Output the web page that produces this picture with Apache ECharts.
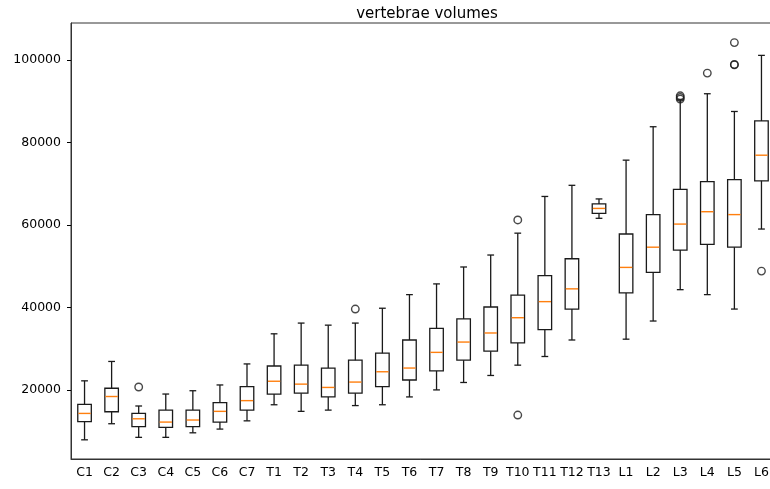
<!DOCTYPE html>
<html>
<head>
<meta charset="utf-8">
<title>vertebrae volumes</title>
<script src="https://cdn.jsdelivr.net/npm/echarts@6/dist/echarts.min.js"></script>
<style>
    html, body { margin: 0; padding: 0; background: #fff; }
    #chart { width: 770px; height: 489px; }
</style>
</head>
<body>
<div id="chart"></div>
<script>
// vertebra names along the x axis
var categories = ['C1','C2','C3','C4','C5','C6','C7',
    'T1','T2','T3','T4','T5','T6','T7','T8','T9','T10','T11','T12','T13',
    'L1','L2','L3','L4','L5','L6'];

// box statistics (whisker low, Q1, median, Q3, whisker high)
var whiskerLow = [7900, 11800, 8500, 8500, 9600, 10500, 12500,
    16400, 14800, 15100, 16200, 16400, 18300, 20000, 21800, 23500,
    26000, 28100, 32100, 61600, 32300, 36700, 44300, 43100, 39600, 59000];
var q1 = [12300, 14700, 11100, 10900, 11100, 12200, 15100,
    19000, 19200, 18300, 19200, 20800, 22400, 24600, 27200, 29400,
    31400, 34600, 39600, 62800, 43500, 48500, 53900, 55300, 54600, 70700];
var medians = [14300, 18400, 13000, 12200, 12700, 14800, 17400,
    22100, 21400, 20600, 21900, 24400, 25300, 29100, 31600, 33800,
    37500, 41400, 44500, 64000, 49700, 54600, 60200, 63200, 62500, 76900];
var q3 = [16500, 20400, 14300, 15100, 15100, 16900, 20800,
    25800, 26000, 25300, 27200, 28900, 32100, 34900, 37200, 40100,
    43000, 47700, 51800, 65100, 57800, 62500, 68600, 70500, 71000, 85200];
var whiskerHigh = [22200, 26900, 16100, 19000, 19800, 21200, 26300,
    33600, 36200, 35700, 36200, 39800, 43100, 45700, 49800, 52700,
    58000, 66900, 69600, 66300, 75700, 83800, 90300, 91800, 87500, 101100];

// outliers: [vertebra, volume]
var outliers = [
    ['C3', 20700],
    ['T4', 39600],
    ['T10', 61200], ['T10', 13900],
    ['L3', 91300], ['L3', 90900], ['L3', 90500],
    ['L4', 96800],
    ['L5', 104200], ['L5', 98900], ['L5', 98800],
    ['L6', 48800]
];

var yTicks = [20000, 40000, 60000, 80000, 100000];

var boxData = [];
for (var i = 0; i < categories.length; i++) {
    boxData.push([i, whiskerLow[i], q1[i], medians[i], q3[i], whiskerHigh[i]]);
}
var outlierData = [];
for (var j = 0; j < outliers.length; j++) {
    outlierData.push([categories.indexOf(outliers[j][0]), outliers[j][1]]);
}

/**
 * matplotlib style box: half-band box, quarter-band caps, orange median
 */
var renderBox = function (params, api) {
    var idx = api.value(0);
    var lo = api.coord([idx, api.value(1)]);
    var b1 = api.coord([idx, api.value(2)]);
    var md = api.coord([idx, api.value(3)]);
    var b3 = api.coord([idx, api.value(4)]);
    var hi = api.coord([idx, api.value(5)]);
    var band = api.size([1, 0])[0];
    var bw = band * 0.5, cw = band * 0.25;
    var x = lo[0];
    var black = { stroke: '#1a1a1a', lineWidth: 1.3, fill: null };
    var line = function (x1, y1, x2, y2, style) {
        return { type: 'line', shape: { x1: x1, y1: y1, x2: x2, y2: y2 }, style: style };
    };
    return {
        type: 'group',
        children: [
            line(x, b1[1], x, lo[1], black),
            line(x, b3[1], x, hi[1], black),
            line(x - cw / 2, lo[1], x + cw / 2, lo[1], black),
            line(x - cw / 2, hi[1], x + cw / 2, hi[1], black),
            {
                type: 'rect',
                shape: { x: x - bw / 2, y: b3[1], width: bw, height: b1[1] - b3[1] },
                style: black
            },
            line(x - bw / 2 + 0.6, md[1], x + bw / 2 - 0.6, md[1], { stroke: '#ff7f0e', lineWidth: 1.4 })
        ]
    };
};

var myChart = echarts.init(document.getElementById('chart'), null, { renderer: 'canvas' });
var option = {
    animation: false,
    backgroundColor: '#fff',
    textStyle: { fontFamily: 'DejaVu Sans' },
    title: {
        text: 'vertebrae volumes',
        left: 422,
        top: 2,
        textAlign: 'center',
        textStyle: { fontFamily: 'DejaVu Sans', fontSize: 15, fontWeight: 'normal', color: '#000' }
    },
    grid: {
        left: 71,
        top: 23,
        width: 704,
        height: 436,
        show: true,
        borderColor: '#333',
        borderWidth: 1,
        containLabel: false,
        outerBoundsMode: 'none'
    },
    xAxis: {
        type: 'category',
        data: categories,
        boundaryGap: true,
        axisLine: { lineStyle: { color: '#333', width: 1 } },
        axisTick: { alignWithLabel: true, length: 4, lineStyle: { color: '#000' } },
        axisLabel: { color: '#000', fontSize: 12.5, margin: 7, interval: 0, fontFamily: 'DejaVu Sans' },
        splitLine: { show: false }
    },
    yAxis: {
        type: 'value',
        min: 3250,
        max: 108950,
        axisLine: { show: true, lineStyle: { color: '#333', width: 1 } },
        axisTick: { show: true, length: 4, customValues: yTicks, lineStyle: { color: '#000' } },
        axisLabel: {
            color: '#000', fontSize: 12.5, margin: 10, customValues: yTicks, fontFamily: 'DejaVu Sans',
            formatter: function (v) { return String(v); }
        },
        splitLine: { show: false }
    },
    series: [
        {
            name: 'boxes',
            type: 'custom',
            renderItem: renderBox,
            encode: { x: 0, y: [1, 2, 3, 4, 5] },
            data: boxData,
            z: 2
        },
        {
            name: 'outliers',
            type: 'scatter',
            symbol: 'circle',
            symbolSize: 7.5,
            itemStyle: { color: 'rgba(0,0,0,0)', borderColor: '#1a1a1a', borderWidth: 1.4 },
            data: outlierData,
            z: 3
        }
    ]
};
myChart.setOption(option);
</script>
</body>
</html>
